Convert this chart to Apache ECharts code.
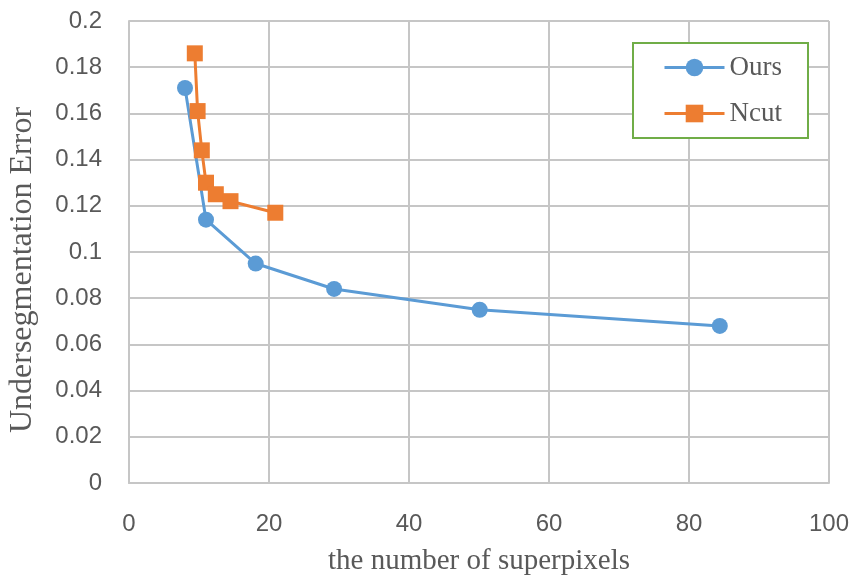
<!DOCTYPE html>
<html>
<head>
<meta charset="utf-8">
<script src="https://cdn.jsdelivr.net/npm/echarts@6/dist/echarts.min.js"></script>
<style>
  html, body { margin: 0; padding: 0; background: #fff; }
  #chart { width: 859px; height: 577px; }
</style>
</head>
<body>
<div id="chart"></div>
<script>
// values
const oursX = [8.0, 11.0, 18.1, 29.3, 50.1, 84.4];
const oursY = [0.171, 0.114, 0.095, 0.084, 0.075, 0.068];
const ncutX = [9.4, 9.8, 10.4, 11.0, 12.4, 14.5, 20.9];
const ncutY = [0.186, 0.161, 0.144, 0.130, 0.125, 0.122, 0.117];

const gridColor = '#c6c6c6';
const labelColor = '#595959';
const serif = '"Liberation Serif", "DejaVu Serif", serif';
const sans = '"Liberation Sans", Arial, sans-serif';

const chart = echarts.init(document.getElementById('chart'));

const pairs = (xs, ys) => xs.map((x, i) => [x, ys[i]]);

chart.setOption({
  backgroundColor: '#fff',
  animation: false,
  grid: { left: 129, right: 30, top: 21, bottom: 94, containLabel: false, outerBoundsMode: 'none' },
  legend: {
    orient: 'vertical',
    left: 633,
    top: 43,
    padding: [11, 26, 11, 30],
    itemGap: 19,
    itemWidth: 60,
    itemHeight: 22,
    borderColor: '#70AD47',
    borderWidth: 2,
    backgroundColor: '#fff',
    lineStyle: { width: 3 },
    textStyle: { fontFamily: serif, fontSize: 27, color: labelColor },
    data: ['Ours', 'Ncut']
  },
  xAxis: {
    type: 'value',
    min: 0,
    max: 100,
    interval: 20,
    name: 'the number of superpixels',
    nameLocation: 'middle',
    nameGap: 64,
    nameTextStyle: { fontFamily: serif, fontSize: 29, color: labelColor },
    axisLine: { show: true, lineStyle: { color: gridColor, width: 2 } },
    axisTick: { show: false },
    axisLabel: { fontFamily: sans, fontSize: 24, color: labelColor, margin: 29 },
    splitLine: { show: true, lineStyle: { color: gridColor, width: 2 } }
  },
  yAxis: {
    type: 'value',
    min: 0,
    max: 0.2,
    interval: 0.02,
    name: 'Undersegmentation Error',
    nameLocation: 'middle',
    nameGap: 90,
    nameTextStyle: { fontFamily: serif, fontSize: 32, color: labelColor, padding: [0, 36, 0, 0] },
    axisLine: { show: true, lineStyle: { color: gridColor, width: 2 } },
    axisTick: { show: false },
    axisLabel: { fontFamily: sans, fontSize: 24, color: labelColor, margin: 27 },
    splitLine: { show: true, lineStyle: { color: gridColor, width: 2 } }
  },
  series: [
    {
      name: 'Ours',
      type: 'line',
      data: pairs(oursX, oursY),
      symbol: 'circle',
      symbolSize: 16,
      itemStyle: { color: '#5B9BD5' },
      lineStyle: { color: '#5B9BD5', width: 3 }
    },
    {
      name: 'Ncut',
      type: 'line',
      data: pairs(ncutX, ncutY),
      symbol: 'rect',
      symbolSize: 16,
      itemStyle: { color: '#ED7D31' },
      lineStyle: { color: '#ED7D31', width: 3 }
    }
  ]
});
</script>
</body>
</html>
